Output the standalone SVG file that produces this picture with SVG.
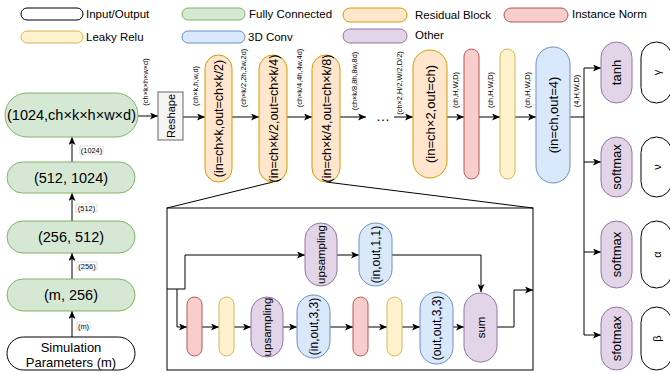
<svg xmlns="http://www.w3.org/2000/svg" width="670" height="375" viewBox="0 0 670 375">
<defs>
<marker id="ah" markerUnits="userSpaceOnUse" markerWidth="8" markerHeight="7" refX="8" refY="3.5" orient="auto"><path d="M0,0 L8,3.5 L0,7 L2,3.5 z" fill="#000"/></marker>
<style>
text{font-family:"Liberation Sans",Arial,sans-serif;fill:#000}
.io{fill:#fff;stroke:#000;stroke-width:1}
.fc{fill:#d5e8d4;stroke:#82b366;stroke-width:1}
.lr{fill:#fff2cc;stroke:#d6b656;stroke-width:1}
.cv{fill:#dae8fc;stroke:#6c8ebf;stroke-width:1}
.rb{fill:#ffe6cc;stroke:#d79b00;stroke-width:1}
.in{fill:#f8cecc;stroke:#b85450;stroke-width:1}
.ot{fill:#e1d5e7;stroke:#9673a6;stroke-width:1}
.rs{fill:#f5f5f5;stroke:#666;stroke-width:1}
.lg{font-size:11.5px}
.big{font-size:14.5px;text-anchor:middle}
.mid{font-size:12.5px;text-anchor:middle}
.sm{font-size:11.5px;text-anchor:middle}
.el{font-size:7.4px;text-anchor:middle}
.ln{fill:none;stroke:#000;stroke-width:1}
.ar{fill:none;stroke:#000;stroke-width:1;marker-end:url(#ah)}
.lb{fill:#fff;stroke:#c8c8c8;stroke-width:0.6}
</style>
</defs>
<rect width="670" height="375" fill="#fff"/>

<g id="legend">
<rect x="21" y="8" width="62" height="12" rx="6" class="io"/><text x="86" y="18" class="lg">Input/Output</text>
<rect x="21" y="31" width="62" height="12" rx="6" class="lr"/><text x="86" y="41" class="lg">Leaky Relu</text>
<rect x="182" y="8" width="63" height="12" rx="6" class="fc"/><text x="249" y="18" class="lg">Fully Connected</text>
<rect x="182" y="31" width="63" height="12" rx="6" class="cv"/><text x="248" y="41" class="lg">3D Conv</text>
<rect x="343" y="8" width="64" height="14" rx="7" class="rb"/><text x="415" y="19" class="lg">Residual Block</text>
<rect x="504" y="8" width="64" height="14" rx="7" class="in"/><text x="572" y="18" class="lg">Instance Norm</text>
<rect x="343" y="29" width="64" height="14" rx="7" class="ot"/><text x="415" y="39" class="lg">Other</text>
</g>

<g id="connectors">
<line x1="72" y1="337" x2="72" y2="311" class="ar"/>
<line x1="72" y1="279" x2="72" y2="253" class="ar"/>
<line x1="72" y1="221" x2="72" y2="193" class="ar"/>
<line x1="72" y1="162" x2="72" y2="137" class="ar"/>
<line x1="138" y1="116" x2="158" y2="116" class="ar"/>
<line x1="183" y1="117" x2="205" y2="117" class="ar"/>
<line x1="232" y1="117" x2="259" y2="117" class="ar"/>
<line x1="287" y1="117" x2="312" y2="117" class="ar"/>
<line x1="340" y1="117" x2="366" y2="117" class="ar"/>
<line x1="394" y1="117" x2="413" y2="117" class="ar"/>
<line x1="447" y1="117" x2="464" y2="117" class="ar"/>
<line x1="479" y1="117" x2="500" y2="117" class="ar"/>
<line x1="515" y1="117" x2="536" y2="117" class="ar"/>
<polyline points="570,117 584,117" class="ln"/>
<line x1="584" y1="68" x2="584" y2="335" class="ln"/>
<line x1="584" y1="68" x2="601" y2="68" class="ar"/>
<line x1="584" y1="162" x2="601" y2="162" class="ar"/>
<line x1="584" y1="252" x2="601" y2="252" class="ar"/>
<line x1="584" y1="335" x2="601" y2="335" class="ar"/>
<line x1="273" y1="182" x2="167" y2="208" class="ln"/>
<line x1="326" y1="182" x2="533" y2="208" class="ln"/>
<polyline points="167,289 185,289 185,255 305,255" class="ar"/>
<polyline points="177,289 177,327 187,327" class="ar"/>
<line x1="337" y1="255" x2="359" y2="255" class="ar"/>
<polyline points="392,255 481,255 481,292" class="ar"/>
<line x1="202" y1="327" x2="219" y2="327" class="ar"/>
<line x1="234" y1="327" x2="251" y2="327" class="ar"/>
<line x1="283" y1="327" x2="297" y2="327" class="ar"/>
<line x1="330" y1="327" x2="353" y2="327" class="ar"/>
<line x1="368" y1="327" x2="387" y2="327" class="ar"/>
<line x1="402" y1="327" x2="420" y2="327" class="ar"/>
<line x1="453" y1="327" x2="464" y2="327" class="ar"/>
<polyline points="497,327 514,327 514,290 533,290" class="ar"/>
<text x="383" y="121" font-size="14" text-anchor="middle">…</text>
</g>

<g id="edge-labels">
<rect x="80" y="146" width="23" height="8" class="lb"/><text x="91.5" y="152.5" class="el">(1024)</text>
<rect x="76" y="204" width="21" height="8" class="lb"/><text x="86.5" y="210.5" class="el">(512)</text>
<rect x="77" y="262" width="20" height="8" class="lb"/><text x="87" y="268.5" class="el">(256)</text>
<rect x="77" y="322" width="13" height="8" class="lb"/><text x="83.5" y="328.5" class="el">(m)</text>
<text transform="translate(145,82) rotate(-90)" y="2.5" class="el">(ch×k×h×w×d)</text>
<text transform="translate(195,86) rotate(-90)" y="2.5" class="el">(ch×k,h,w,d)</text>
<text transform="translate(243,78) rotate(-90)" y="2.5" class="el">(ch×k/2,2h,2w,2d)</text>
<text transform="translate(299,78) rotate(-90)" y="2.5" class="el">(ch×k/4,4h,4w,4d)</text>
<text transform="translate(354,81) rotate(-90)" y="2.5" class="el">(ch×k/8,8h,8w,8d)</text>
<text transform="translate(399,83) rotate(-90)" y="2.5" class="el">(ch×2,H/2,W/2,D/2)</text>
<text transform="translate(455,90) rotate(-90)" y="2.5" class="el">(ch,H,W,D)</text>
<text transform="translate(490,90) rotate(-90)" y="2.5" class="el">(ch,H,W,D)</text>
<text transform="translate(527,90) rotate(-90)" y="2.5" class="el">(ch,H,W,D)</text>
<text transform="translate(576,91) rotate(-90)" y="2.5" class="el">(4,H,W,D)</text>
</g>

<g id="sim-params"><rect x="7" y="337" width="128" height="33" rx="16.5" class="io"/><text x="71" y="352" font-size="13" text-anchor="middle">Simulation</text><text x="71" y="367" font-size="13" text-anchor="middle">Parameters (m)</text></g>
<g id="fc-m-256"><rect x="7" y="279" width="128" height="32" rx="16" class="fc"/><text x="71" y="300" class="big">(m, 256)</text></g>
<g id="fc-256-512"><rect x="7" y="221" width="128" height="32" rx="16" class="fc"/><text x="71" y="242" class="big">(256, 512)</text></g>
<g id="fc-512-1024"><rect x="7" y="162" width="128" height="31" rx="15.5" class="fc"/><text x="71" y="183" class="big">(512, 1024)</text></g>
<g id="fc-1024"><rect x="5" y="93" width="133" height="44" rx="22" class="fc"/><text x="71.5" y="120" class="big">(1024,ch×k×h×w×d)</text></g>

<g id="reshape"><rect x="158" y="92" width="25" height="48" class="rs"/><text transform="translate(170.5,116) rotate(-90)" y="4" font-size="11" text-anchor="middle">Reshape</text></g>
<g id="res1"><rect x="205" y="55" width="27" height="127" rx="13.5" class="rb"/><text transform="translate(218.5,118.5) rotate(-90)" y="4.5" class="mid">(in=ch×k,out=ch×k/2)</text></g>
<g id="res2"><rect x="259" y="55" width="28" height="127" rx="14" class="rb"/><text transform="translate(273,118.5) rotate(-90)" y="4.5" class="mid">(in=ch×k/2,out=ch×k/4)</text></g>
<g id="res3"><rect x="312" y="55" width="28" height="127" rx="14" class="rb"/><text transform="translate(326,118.5) rotate(-90)" y="4.5" class="mid">(in=ch×k/4,out=ch×k/8)</text></g>
<g id="res4"><rect x="413" y="50" width="34" height="128" rx="17" class="rb"/><text transform="translate(430,114) rotate(-90)" y="4.5" font-size="13" text-anchor="middle">(in=ch×2,out=ch)</text></g>
<g id="inorm"><rect x="464" y="49" width="15" height="130" rx="7.5" class="in"/></g>
<g id="lrelu"><rect x="500" y="49" width="15" height="130" rx="7.5" class="lr"/></g>
<g id="conv-out"><rect x="536" y="47" width="34" height="136" rx="17" class="cv"/><text transform="translate(553,115) rotate(-90)" y="4.5" font-size="13" text-anchor="middle">(in=ch,out=4)</text></g>

<g id="tanh"><rect x="601" y="42" width="31" height="61" rx="15.5" class="ot"/><text transform="translate(616.5,72.5) rotate(-90)" y="4.5" font-size="13" text-anchor="middle">tanh</text></g>
<g id="gamma"><rect x="641" y="42" width="31" height="61" rx="15.5" class="io"/><text transform="translate(657,72.5) rotate(-90)" y="4" font-size="11" text-anchor="middle">γ</text></g>
<g id="softmax1"><rect x="601" y="137" width="31" height="60" rx="15.5" class="ot"/><text transform="translate(616.5,167) rotate(-90)" y="4.5" font-size="13" text-anchor="middle">softmax</text></g>
<g id="nu"><rect x="641" y="137" width="31" height="60" rx="15.5" class="io"/><text transform="translate(657,167) rotate(-90)" y="4" font-size="11" text-anchor="middle">ν</text></g>
<g id="softmax2"><rect x="601" y="221" width="31" height="67" rx="15.5" class="ot"/><text transform="translate(616.5,254.5) rotate(-90)" y="4.5" font-size="13" text-anchor="middle">softmax</text></g>
<g id="alpha"><rect x="641" y="221" width="31" height="67" rx="15.5" class="io"/><text transform="translate(657,254.5) rotate(-90)" y="4" font-size="11" text-anchor="middle">α</text></g>
<g id="sfotmax"><rect x="601" y="307" width="31" height="63" rx="15.5" class="ot"/><text transform="translate(616.5,338.5) rotate(-90)" y="4.5" font-size="13" text-anchor="middle">sfotmax</text></g>
<g id="beta"><rect x="641" y="307" width="31" height="63" rx="15.5" class="io"/><text transform="translate(657,338.5) rotate(-90)" y="4" font-size="11" text-anchor="middle">β</text></g>

<g id="detail-frame"><rect x="167" y="208" width="366" height="162" class="ln"/></g>
<g id="d-ups1"><rect x="305" y="223" width="32" height="63" rx="16" class="ot"/><text transform="translate(321,254.5) rotate(-90)" y="4" class="sm">upsampling</text></g>
<g id="d-conv11"><rect x="359" y="223" width="33" height="63" rx="16.5" class="cv"/><text transform="translate(375.5,254.5) rotate(-90)" y="4" font-size="12" text-anchor="middle">(in,out,1,1)</text></g>
<g id="d-in1"><rect x="187" y="297" width="15" height="59" rx="7.5" class="in"/></g>
<g id="d-lr1"><rect x="219" y="297" width="15" height="59" rx="7.5" class="lr"/></g>
<g id="d-ups2"><rect x="251" y="297" width="32" height="60" rx="16" class="ot"/><text transform="translate(267,327) rotate(-90)" y="4" class="sm">upsampling</text></g>
<g id="d-conv33a"><rect x="297" y="295" width="33" height="63" rx="16.5" class="cv"/><text transform="translate(313.5,326.5) rotate(-90)" y="4" font-size="12" text-anchor="middle">(in,out,3,3)</text></g>
<g id="d-in2"><rect x="353" y="297" width="15" height="59" rx="7.5" class="in"/></g>
<g id="d-lr2"><rect x="387" y="297" width="15" height="59" rx="7.5" class="lr"/></g>
<g id="d-conv33b"><rect x="420" y="292" width="33" height="72" rx="16.5" class="cv"/><text transform="translate(436.5,328) rotate(-90)" y="4" font-size="12" text-anchor="middle">(out,out,3,3)</text></g>
<g id="d-sum"><rect x="464" y="293" width="33" height="69" rx="16.5" class="ot"/><text transform="translate(480.5,327.5) rotate(-90)" y="4" class="sm">sum</text></g>
</svg>
